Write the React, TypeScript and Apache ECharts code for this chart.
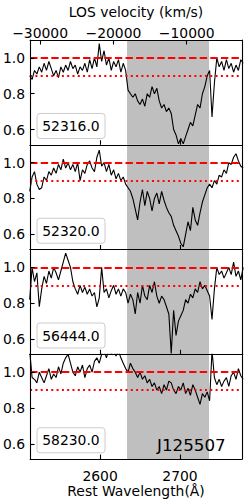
import React, { useEffect, useRef } from "react";
import * as echarts from "echarts";

const wavelengths = [
  2512, 2515, 2518, 2521, 2524, 2527, 2530, 2533, 2536, 2539,
  2542, 2545, 2548, 2551, 2554, 2557, 2560, 2563, 2566, 2569,
  2572, 2575, 2578, 2581, 2584, 2587, 2590, 2593, 2596, 2599,
  2602, 2605, 2608, 2611, 2614, 2617, 2620, 2623, 2626, 2629,
  2632, 2635, 2638, 2641, 2644, 2647, 2650, 2653, 2656, 2659,
  2662, 2665, 2668, 2671, 2674, 2677, 2680, 2683, 2686, 2689,
  2692, 2695, 2698, 2701, 2704, 2707, 2710, 2713, 2716, 2719,
  2722, 2725, 2728, 2731, 2734, 2737, 2740, 2743, 2746, 2749,
  2752, 2755, 2758, 2761, 2764, 2767, 2770, 2773, 2776, 2779,
];

const flux52316 = [
  0.90, 0.88, 0.93, 0.91, 0.95, 0.92, 0.97, 0.93, 0.98, 0.94,
  0.90, 0.93, 0.89, 0.95, 0.92, 0.96, 0.93, 0.98, 0.94, 0.96,
  0.91, 0.95, 0.93, 0.97, 0.92, 0.99, 0.94, 1.00, 0.95, 1.08,
  0.98, 1.04, 0.96, 1.00, 0.93, 0.98, 0.95, 0.99, 0.92, 0.97,
  0.93, 0.82, 0.80, 0.78, 0.80, 0.76, 0.74, 0.77, 0.73, 0.80,
  0.78, 0.84, 0.80, 0.83, 0.76, 0.72, 0.74, 0.70, 0.72, 0.69,
  0.60, 0.57, 0.52, 0.55, 0.52, 0.56, 0.60, 0.64, 0.62, 0.68,
  0.74, 0.72, 0.80, 0.84, 0.90, 0.93, 0.67, 0.86, 1.00, 0.95,
  0.98, 0.93, 0.99, 0.94, 0.97, 0.92, 0.96, 0.93, 0.99, 0.97,
];

const flux52320 = [
  0.84, 0.92, 0.95, 0.88, 0.85, 0.86, 0.92, 0.90, 0.95, 0.93,
  0.97, 0.94, 0.99, 0.96, 1.02, 0.97, 1.00, 0.96, 0.99, 0.95,
  1.00, 0.90, 0.96, 0.94, 0.99, 1.01, 0.97, 0.95, 1.03, 1.07,
  0.98, 1.00, 0.95, 0.99, 0.93, 0.96, 0.91, 0.94, 0.90, 0.92,
  0.88, 0.86, 0.84, 0.80, 0.74, 0.68, 0.78, 0.85, 0.76, 0.84,
  0.80, 0.73, 0.80, 0.83, 0.77, 0.84, 0.79, 0.75, 0.72, 0.70,
  0.65, 0.62, 0.59, 0.55, 0.53, 0.60, 0.67, 0.62, 0.75, 0.68,
  0.65, 0.72, 0.78, 0.82, 0.86, 0.88, 0.86, 0.90, 0.88, 0.93,
  0.92, 0.96, 0.94, 1.00, 0.99, 1.03, 1.05, 1.01, 0.98, 0.97,
];

const flux56444 = [
  0.82, 1.00, 0.92, 0.97, 0.78, 0.88, 0.95, 0.91, 0.98, 0.94,
  1.00, 0.97, 0.93, 0.98, 1.03, 1.08, 1.04, 1.00, 0.92, 0.88,
  0.85, 0.90, 0.86, 0.89, 0.85, 0.88, 0.84, 0.86, 0.78, 0.83,
  1.00, 0.86, 0.88, 0.83, 0.87, 0.90, 0.85, 0.88, 0.84, 0.88,
  0.86, 0.80, 0.85, 0.82, 0.74, 0.86, 0.80, 0.90, 0.84, 0.82,
  0.90, 0.86, 0.92, 0.84, 0.80, 0.84, 0.82, 0.78, 0.74, 0.52,
  0.76, 0.62, 0.70, 0.73, 0.76, 0.82, 0.80, 0.85, 0.83, 0.88,
  0.86, 0.92, 0.88, 0.90, 0.87, 0.84, 0.71, 0.88, 1.00, 0.96,
  0.98, 0.94, 0.97, 1.00, 0.96, 1.03, 0.95, 0.98, 0.93, 1.00,
];

const flux58230 = [
  1.12, 0.97, 0.96, 0.94, 1.00, 0.97, 0.94, 0.98, 1.02, 0.96,
  0.99, 0.97, 1.03, 0.99, 1.05, 1.08, 1.10, 1.05, 1.00, 0.98,
  1.03, 1.00, 1.04, 0.97, 1.02, 1.04, 1.00, 1.06, 1.08, 1.05,
  1.10, 1.12, 1.08, 1.13, 1.10, 1.12, 1.09, 1.12, 1.08, 1.05,
  1.02, 1.00, 1.05, 1.02, 1.00, 0.97, 1.00, 0.96, 0.98, 0.94,
  0.96, 0.92, 0.94, 0.90, 0.92, 0.88, 0.93, 0.90, 0.95, 0.94,
  0.90, 0.88, 0.92, 0.90, 0.94, 0.88, 0.91, 0.87, 0.93, 0.90,
  0.86, 0.82, 0.88, 0.86, 0.89, 0.84, 1.12, 0.97, 0.93, 0.96,
  0.92, 0.95, 0.97, 0.92, 0.98, 1.00, 0.96, 1.02, 0.98, 0.96,
];

const mjdLabels = ["52316.0", "52320.0", "56444.0", "58230.0"];
const spectra = [flux52316, flux52320, flux56444, flux58230];
const objectName = "J125507";

const waveMin = 2512.5;
const waveMax = 2777.5;
const velocityMin = -31363;
const velocityMax = -2463;
const fluxMin = 0.515;
const fluxMax = 1.1;
const bandStart = 2633.75;
const bandEnd = 2736.25;
const continuumLevel = 1.0;
const thresholdLevel = 0.9;

const waveTicks = [2600, 2700];
const velocityTicks = [-30000, -20000, -10000];
const fluxTicks = [0.6, 0.8, 1.0];

const FONT = '"DejaVu Sans", sans-serif';
const FS = 13.9;

export default function App() {
  const ref = useRef<HTMLDivElement>(null);

  useEffect(() => {
    if (!ref.current) return;
    const chart = echarts.init(ref.current, null, { renderer: "svg" });

    const left = 30;
    const width = 212;
    const top0 = 40;
    const h = 104.75;
    const tops = spectra.map((_, k) => top0 + k * h);

    const grid = tops.map((t) => ({ left, width, top: t, height: h }));

    const lineCol = "#000";
    const xAxis: any[] = [];
    const yAxis: any[] = [];
    spectra.forEach((_, k) => {
      const last = k === spectra.length - 1;
      xAxis.push({
        type: "value",
        gridIndex: k,
        position: "bottom",
        min: waveMin,
        max: waveMax,
        z: 10,
        axisLine: { show: true, onZero: false, lineStyle: { color: lineCol, width: 1.1 } },
        axisTick: { show: true, inside: true, length: 4.5, customValues: waveTicks, lineStyle: { color: lineCol, width: 1.1 } },
        axisLabel: {
          show: last,
          customValues: waveTicks,
          margin: 10,
          color: "#000",
          fontSize: FS,
          fontFamily: FONT,
          formatter: (v: number) => String(v),
        },
        splitLine: { show: false },
        name: last ? "Rest Wavelength(Å)" : "",
        nameLocation: "middle",
        nameGap: 19,
        nameTextStyle: { color: "#000", fontSize: FS, fontFamily: FONT },
      });
      xAxis.push({
        type: "value",
        gridIndex: k,
        position: "top",
        min: velocityMin,
        max: velocityMax,
        z: 10,
        axisLine: { show: true, onZero: false, lineStyle: { color: lineCol, width: 1.1 } },
        axisTick: { show: k === 0, inside: true, length: 4.5, customValues: velocityTicks, lineStyle: { color: lineCol, width: 1.1 } },
        axisLabel: {
          show: k === 0,
          customValues: velocityTicks,
          margin: 0,
          color: "#000",
          fontSize: FS,
          fontFamily: FONT,
          formatter: (v: number) => String(v).replace("-", "\u2212"),
        },
        splitLine: { show: false },
        name: k === 0 ? "LOS velocity (km/s)" : "",
        nameLocation: "middle",
        nameGap: 21,
        nameTextStyle: { color: "#000", fontSize: FS, fontFamily: FONT },
      });
      yAxis.push({
        type: "value",
        gridIndex: k,
        position: "left",
        min: fluxMin,
        max: fluxMax,
        z: 10,
        axisLine: { show: true, onZero: false, lineStyle: { color: lineCol, width: 1.1 } },
        axisTick: { show: true, inside: true, length: 4.5, customValues: fluxTicks, lineStyle: { color: lineCol, width: 1.1 } },
        axisLabel: {
          show: true,
          customValues: fluxTicks,
          margin: 5,
          color: "#000",
          fontSize: FS,
          fontFamily: FONT,
          formatter: (v: number) => v.toFixed(1),
        },
        splitLine: { show: false },
      });
      yAxis.push({
        type: "value",
        gridIndex: k,
        position: "right",
        min: fluxMin,
        max: fluxMax,
        z: 10,
        axisLine: { show: true, onZero: false, lineStyle: { color: lineCol, width: 1.1 } },
        axisTick: { show: false },
        axisLabel: { show: false },
        splitLine: { show: false },
      });
    });

    const series = spectra.map((flux, k) => ({
      type: "line",
      xAxisIndex: 2 * k,
      yAxisIndex: 2 * k,
      data: wavelengths.map((w, i) => [w, flux[i]]),
      showSymbol: false,
      symbol: "none",
      clip: true,
      z: 3,
      lineStyle: { color: "#000", width: 1.1 },
      markArea: {
        silent: true,
        z: 1,
        itemStyle: { color: "#bfbfbf", opacity: 1 },
        data: [[{ xAxis: bandStart }, { xAxis: bandEnd }]],
      },
      markLine: {
        silent: true,
        symbol: ["none", "none"],
        label: { show: false },
        z: 5,
        data: [
          { yAxis: continuumLevel, lineStyle: { color: "#ff0000", width: 2, type: [7.4, 3.2] } },
          { yAxis: thresholdLevel, lineStyle: { color: "#ff0000", width: 2, type: [2, 3.3] } },
        ],
      },
    }));

    const graphic: any[] = tops.map((t, k) => ({
      type: "group",
      z: 20,
      children: [
        {
          type: "rect",
          shape: { x: 37, y: t + 73.5, width: 68, height: 25, r: 3 },
          style: { fill: "rgba(255,255,255,0.8)", stroke: "#cccccc", lineWidth: 1 },
        },
        {
          type: "text",
          style: {
            text: mjdLabels[k],
            x: 71,
            y: t + 86,
            align: "center",
            verticalAlign: "middle",
            fill: "#000",
            font: `${FS}px ${FONT}`,
          },
        },
      ],
    }));
    graphic.push({
      type: "text",
      z: 20,
      style: {
        text: objectName,
        x: 157,
        y: 445,
        align: "left",
        verticalAlign: "middle",
        fill: "#000",
        font: `16.7px ${FONT}`,
      },
    });

    chart.setOption({
      animation: false,
      backgroundColor: "#fff",
      grid,
      xAxis,
      yAxis,
      series,
      graphic,
    });

    return () => chart.dispose();
  }, []);

  return (
    <div
      ref={ref}
      style={{ position: "absolute", left: 0, top: 0, width: 250, height: 500 }}
    />
  );
}
